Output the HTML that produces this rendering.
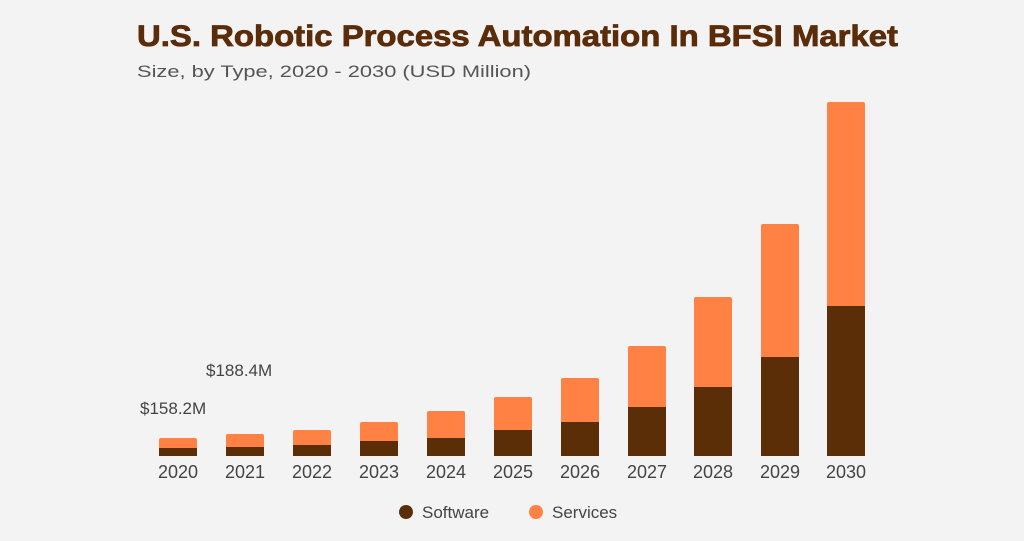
<!DOCTYPE html>
<html><head><style>
body{margin:0;width:1024px;height:536px;background:#f3f3f3;overflow:hidden;font-family:"Liberation Sans",sans-serif;}
</style></head><body>
<svg width="1024" height="536" xmlns="http://www.w3.org/2000/svg">
<rect width="1024" height="536" fill="#f3f3f3"/>
<text x="137" y="46" font-size="30" font-weight="bold" fill="#5b2c0a" font-family="Liberation Sans" textLength="761" lengthAdjust="spacingAndGlyphs" stroke="#5b2c0a" stroke-width="0.8">U.S. Robotic Process Automation In BFSI Market</text>
<text x="137" y="77" font-size="17" fill="#555" textLength="394" lengthAdjust="spacingAndGlyphs">Size, by Type, 2020 - 2030 (USD Million)</text>
<g id="bars"></g>
<text x="140" y="414" font-size="17" fill="#444">$158.2M</text>
<text x="206" y="376" font-size="17" fill="#444">$188.4M</text>
<circle cx="406" cy="512" r="7" fill="#5c2e07"/>
<text x="422" y="518" font-size="17" fill="#444">Software</text>
<circle cx="536" cy="512" r="7" fill="#ff8244"/>
<text x="552" y="518" font-size="17" fill="#444">Services</text>
</svg>
<script>
var d=[[178,438,448],[245,434,447],[312,430,445],[379,422,441],[446,411,438],[513,397,430],[580,378,422],[647,346,407],[713,297,387],[780,224,357],[846,102,306]];
var g=document.getElementById('bars'),s='';
d.forEach(function(b,i){var x=b[0]-19;
s+='<rect x="'+x+'" y="'+b[1]+'" width="38" height="'+(b[2]-b[1]+3)+'" rx="2" fill="#ff8244"/>';
s+='<rect x="'+x+'" y="'+b[2]+'" width="38" height="'+(456-b[2])+'" fill="#5c2e07"/>';
s+='<text x="'+b[0]+'" y="478" font-size="18" fill="#444" text-anchor="middle">'+(2020+i)+'</text>';});
g.innerHTML=s;
</script>
</body></html>
